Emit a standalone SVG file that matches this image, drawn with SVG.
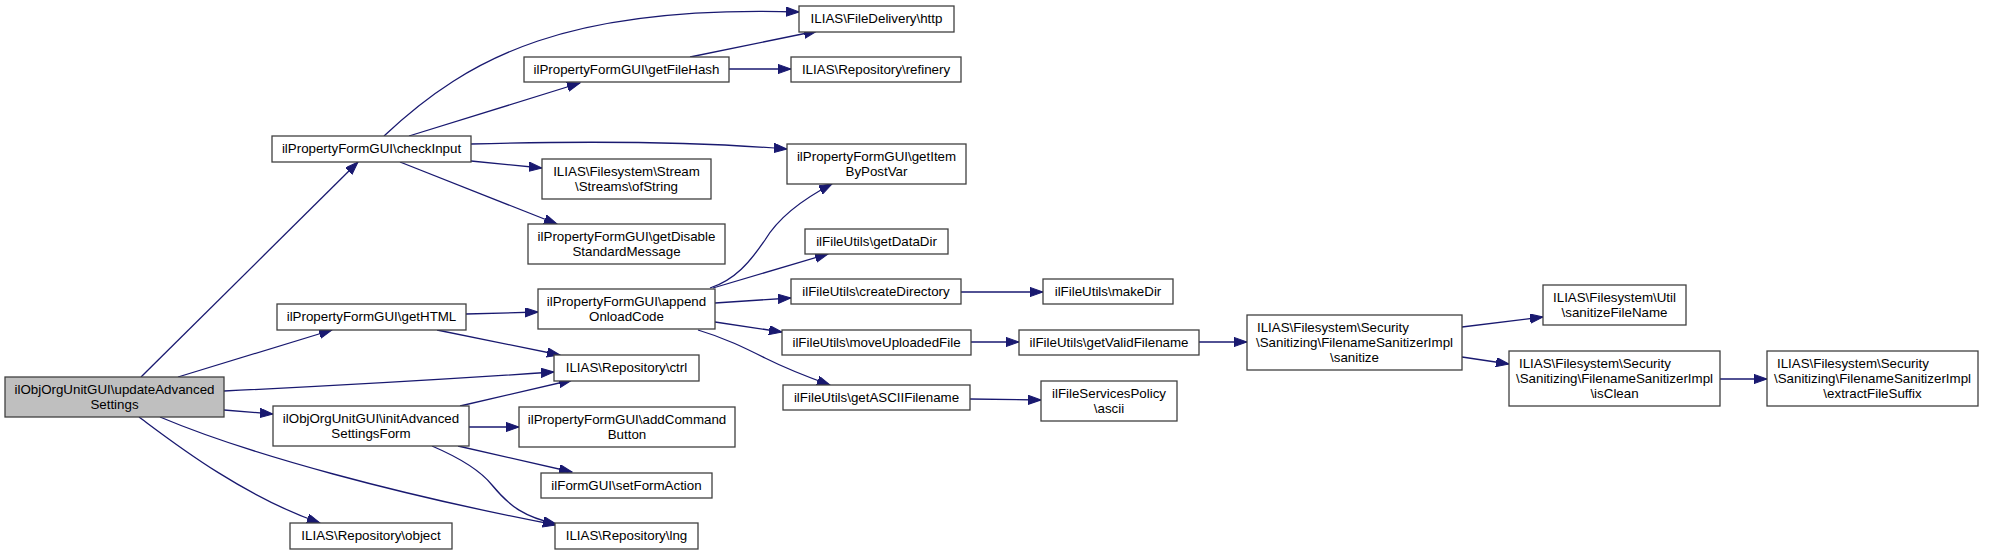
<svg xmlns="http://www.w3.org/2000/svg" width="1996" height="555" viewBox="0 0 1996 555">
<style>
.node rect{fill:#ffffff;stroke:#404040;stroke-width:1.3}
.node.root rect{fill:#bfbfbf}
.node text{font-family:"Liberation Sans",Arial,Helvetica,sans-serif;font-size:13.33px;fill:#000000;text-anchor:middle}
.node text.l{text-anchor:start}
#edges path{fill:none;stroke:#191970;stroke-width:1.3;marker-end:url(#arr)}
</style>
<defs>
<marker id="arr" markerUnits="userSpaceOnUse" markerWidth="14" markerHeight="10" refX="13" refY="4.6" orient="auto">
<path d="M0,0 L13,4.6 L0,9.2 z" fill="#191970" stroke="#191970" stroke-width="1"/>
</marker>
</defs>
<rect width="1996" height="555" fill="#ffffff"/>
<g id="edges">
<path d="M141,377 L358,162"/>
<path d="M178,377 L332,330"/>
<path d="M224,391 C330,386 450,379 554,372"/>
<path d="M224,410 L273,414"/>
<path d="M160,417 C250,455 400,495 556,525"/>
<path d="M139,417 C170,440 240,495 320,523"/>
<path d="M384,136 C470,55 570,5 799,12"/>
<path d="M409,136 L580,83"/>
<path d="M471,144 C580,141 700,142 787,149"/>
<path d="M471,161 L542,168"/>
<path d="M400,162 L557,224"/>
<path d="M690,57 L817,31"/>
<path d="M729,69 L791,69"/>
<path d="M466,314 L538,312"/>
<path d="M437,330 L560,355"/>
<path d="M710,288 C735,280 750,262 765,240 C780,215 805,198 832,184"/>
<path d="M713,288 L828,254"/>
<path d="M715,303 L791,298"/>
<path d="M715,322 L782,332"/>
<path d="M698,330 C725,338 745,348 765,358 C785,368 805,376 830,385"/>
<path d="M460,406 L572,380"/>
<path d="M469,427 L519,427"/>
<path d="M458,446 L572,472"/>
<path d="M432,446 C460,458 480,470 492,485 C510,507 525,517 556,524"/>
<path d="M961,292 L1043,292"/>
<path d="M971,342 L1019,342"/>
<path d="M970,399 L1041,400"/>
<path d="M1199,342 L1247,342"/>
<path d="M1462,327 L1543,317"/>
<path d="M1462,357 L1509,364"/>
<path d="M1720,379 L1767,379"/>
</g>
<g id="n_root" class="node root"><rect x="5" y="377" width="219" height="40"/><text x="114.5" y="393.5">ilObjOrgUnitGUI\updateAdvanced</text><text x="114.5" y="408.5">Settings</text></g>
<g id="n_checkInput" class="node"><rect x="272" y="136" width="199" height="26"/><text x="371.5" y="153">ilPropertyFormGUI\checkInput</text></g>
<g id="n_getHTML" class="node"><rect x="277" y="304" width="189" height="26"/><text x="371.5" y="321">ilPropertyFormGUI\getHTML</text></g>
<g id="n_initForm" class="node"><rect x="273" y="406" width="196" height="40"/><text x="371" y="422.5">ilObjOrgUnitGUI\initAdvanced</text><text x="371" y="437.5">SettingsForm</text></g>
<g id="n_object" class="node"><rect x="290" y="523" width="162" height="26"/><text x="371" y="540">ILIAS\Repository\object</text></g>
<g id="n_http" class="node"><rect x="799" y="6" width="155" height="26"/><text x="876.5" y="23">ILIAS\FileDelivery\http</text></g>
<g id="n_getFileHash" class="node"><rect x="524" y="57" width="205" height="25"/><text x="626.5" y="74">ilPropertyFormGUI\getFileHash</text></g>
<g id="n_refinery" class="node"><rect x="791" y="57" width="170" height="25"/><text x="876" y="74">ILIAS\Repository\refinery</text></g>
<g id="n_getItem" class="node"><rect x="787" y="144" width="179" height="40"/><text x="876.5" y="160.5">ilPropertyFormGUI\getItem</text><text x="876.5" y="175.5">ByPostVar</text></g>
<g id="n_ofString" class="node"><rect x="542" y="159" width="169" height="40"/><text x="626.5" y="175.5">ILIAS\Filesystem\Stream</text><text x="626.5" y="190.5">\Streams\ofString</text></g>
<g id="n_getDisable" class="node"><rect x="528" y="224" width="197" height="40"/><text x="626.5" y="240.5">ilPropertyFormGUI\getDisable</text><text x="626.5" y="255.5">StandardMessage</text></g>
<g id="n_getDataDir" class="node"><rect x="805" y="229" width="143" height="25"/><text x="876.5" y="246">ilFileUtils\getDataDir</text></g>
<g id="n_append" class="node"><rect x="538" y="289" width="177" height="40"/><text x="626.5" y="305.5">ilPropertyFormGUI\append</text><text x="626.5" y="320.5">OnloadCode</text></g>
<g id="n_createDirectory" class="node"><rect x="791" y="279" width="170" height="25"/><text x="876" y="296">ilFileUtils\createDirectory</text></g>
<g id="n_moveUploaded" class="node"><rect x="782" y="330" width="189" height="25"/><text x="876.5" y="347">ilFileUtils\moveUploadedFile</text></g>
<g id="n_getASCII" class="node"><rect x="783" y="385" width="187" height="25"/><text x="876.5" y="402">ilFileUtils\getASCIIFilename</text></g>
<g id="n_ctrl" class="node"><rect x="554" y="355" width="145" height="26"/><text x="626.5" y="372">ILIAS\Repository\ctrl</text></g>
<g id="n_addCommand" class="node"><rect x="519" y="407" width="216" height="40"/><text x="627" y="423.5">ilPropertyFormGUI\addCommand</text><text x="627" y="438.5">Button</text></g>
<g id="n_setFormAction" class="node"><rect x="541" y="473" width="171" height="25"/><text x="626.5" y="490">ilFormGUI\setFormAction</text></g>
<g id="n_lng" class="node"><rect x="555" y="523" width="143" height="26"/><text x="626.5" y="540">ILIAS\Repository\lng</text></g>
<g id="n_makeDir" class="node"><rect x="1043" y="279" width="130" height="25"/><text x="1108" y="296">ilFileUtils\makeDir</text></g>
<g id="n_getValid" class="node"><rect x="1019" y="330" width="180" height="25"/><text x="1109" y="347">ilFileUtils\getValidFilename</text></g>
<g id="n_sanitize" class="node"><rect x="1247" y="315" width="215" height="55"/><text class="l" x="1257" y="331.5">ILIAS\Filesystem\Security</text><text x="1354.5" y="346.5">\Sanitizing\FilenameSanitizerImpl</text><text x="1354.5" y="361.5">\sanitize</text></g>
<g id="n_ascii" class="node"><rect x="1041" y="381" width="136" height="40"/><text x="1109" y="397.5">ilFileServicesPolicy</text><text x="1109" y="412.5">\ascii</text></g>
<g id="n_sanitizeFileName" class="node"><rect x="1543" y="285" width="143" height="40"/><text x="1614.5" y="301.5">ILIAS\Filesystem\Util</text><text x="1614.5" y="316.5">\sanitizeFileName</text></g>
<g id="n_isClean" class="node"><rect x="1509" y="351" width="211" height="55"/><text class="l" x="1519" y="367.5">ILIAS\Filesystem\Security</text><text x="1614.5" y="382.5">\Sanitizing\FilenameSanitizerImpl</text><text x="1614.5" y="397.5">\isClean</text></g>
<g id="n_extract" class="node"><rect x="1767" y="351" width="211" height="55"/><text class="l" x="1777" y="367.5">ILIAS\Filesystem\Security</text><text x="1872.5" y="382.5">\Sanitizing\FilenameSanitizerImpl</text><text x="1872.5" y="397.5">\extractFileSuffix</text></g>
</svg>
